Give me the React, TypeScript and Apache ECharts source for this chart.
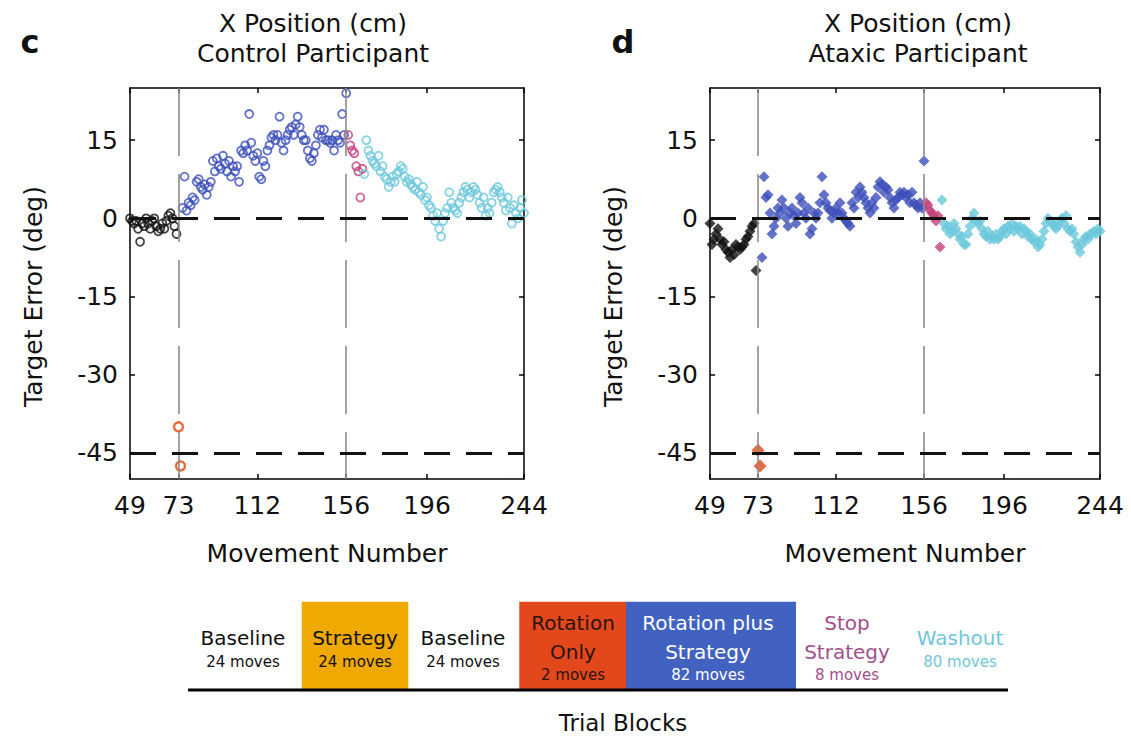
import React, { useEffect, useRef } from "react";
import * as echarts from "echarts";

const FONT = "DejaVu Sans";

// axis ticks
const xTickValues = [49, 73, 112, 156, 196, 244];
const yTickValues = [-45, -30, -15, 0, 15];
const xRange = [49, 244];
const yRange = [-50, 25];
const blockBoundaries = [73, 156];
const referenceLevels = [0, -45];

// first movement number of each block
const baselineStart = 49;
const rotationStart = 73;
const rotPlusStart = 75;
const stopStart = 157;
const washoutStart = 165;

// Control participant (panel c)
const ctrlBaseline = [0, -0.5, -1, -0.5, -2, -4.5, -1, -1.5, 0, -1, -2, -0.5, 0, -1.5, -2.5, -2, -1, -2, -0.5, 0.5, 1, 0, -1.5, -3];
const ctrlRotation = [-40, -47.5];
const ctrlRotPlus = [
  2, 8, 1.5, 3, 2.5, 4, 3.5, 7, 7.5, 6,
  5.5, 6.5, 4.5, 6, 7, 11, 9, 11.5, 10, 9.5,
  12, 10.5, 9, 11, 8, 10, 9, 10, 7, 13,
  12.5, 14, 13, 20, 14.5, 12, 11, 12.5, 8, 7.5,
  11, 10, 13, 14, 15.5, 16, 15, 16, 19.5, 14.5,
  13, 15, 16, 17, 17.5, 16, 18, 19.5, 17.5, 16,
  15, 15, 13, 11.5, 11, 12.5, 14, 16, 17, 15.5,
  17, 15, 15, 14.5, 15, 13, 16, 15, 14.5, 20,
  16, 24,
];
const ctrlStop = [16, 14, 13, 12.5, 10, 9, 4, 9.5];
const ctrlWashout = [
  8.5, 15, 13, 12, 11, 10.5, 10, 12, 9, 10,
  8, 7.5, 6, 7, 8, 7, 8.5, 9, 10, 9.5,
  8, 7, 7.5, 6.5, 6, 5.5, 7, 5, 4.5, 6,
  3.5, 4, 2.5, 2, 0.5, -0.5, 1, -2, -3.5, -0.5,
  1, 2, 5, 3, 2, 1.5, 1, 3, 4, 5,
  6, 5.5, 4, 5, 6, 5.5, 4.5, 3, 2, 4,
  0.5, 2, 1, 3, 5, 5.5, 6, 5, 4, 3,
  1.5, 4, 2, -1, 2.5, 1, 0, 2, 3.5, 1,
];

// Ataxic participant (panel d)
const ataxBaseline = [-1, -5, -4, -3, -2, -4, -5, -4.5, -6, -6.5, -7.5, -6, -7, -5, -5.5, -6, -5.5, -5, -4, -3.5, -2.5, -1.5, -1, -10];
const ataxRotation = [-44.5, -47.5];
const ataxRotPlus = [
  -7.5, 8, 4, 4.5, 1, -3, -1.5, 0, 2, 1,
  3.5, 2, 0, -1.5, 1, 2, 0.5, -1, 1, 4,
  3, 1, 0, 2, -3, -2, 1, 0, 1, 3,
  8, 4.5, 3, 2, 1.5, 0, 1, 2, 1, 3,
  1, 0, -0.5, -1, -1.5, 3, 2, 5, 4, 6,
  5, 4, 3, 2, 1, 3, 2, 4, 6, 7,
  6.5, 5, 6, 5.5, 4, 3, 2, 3.5, 4, 5,
  4.5, 5, 4, 4.5, 3, 5, 3, 2.5, 2, 3,
  2, 11,
];
const ataxStop = [3, 2.5, 1.5, 1, 0.5, -0.5, 0.5, -5.5];
const ataxWashout = [
  3.5, -1, -2, -1.5, -3, -2.5, -1, -2, -3, -4,
  -3.5, -5, -5, -3, -1.5, 0, 1, -0.5, -1, -0.5,
  -2, -3, -3.5, -2.5, -4, -3.5, -4, -3, -4, -3.5,
  -2.5, -2, -3, -1.5, -2, -1, -2.5, -1.5, -2, -1.5,
  -3, -2, -2.5, -3.5, -3, -4, -4.5, -4, -5.5, -5,
  -4, -2.5, -1, 0, -0.5, -1, -1.5, -2, -1.5, -0.5,
  0, -1, 0.5, -2, -2.5, -2, -3, -4.5, -5.5, -6.5,
  -5, -4, -3.5, -4, -3, -3, -2.5, -3, -2, -2.5,
];

// legend blocks
const legendBlocks = [
  { lines: ["Baseline", "24 moves"], fill: null, text: "#111" },
  { lines: ["Strategy", "24 moves"], fill: "#f0a900", text: "#111" },
  { lines: ["Baseline", "24 moves"], fill: null, text: "#111" },
  { lines: ["Rotation", "Only", "2 moves"], fill: "#e2481c", text: "#2a140c" },
  { lines: ["Rotation plus", "Strategy", "82 moves"], fill: "#4262c2", text: "#ffffff" },
  { lines: ["Stop", "Strategy", "8 moves"], fill: null, text: "#a24f8e" },
  { lines: ["Washout", "80 moves"], fill: null, text: "#72c6dc" },
];

const COLORS = {
  baseline: "#111111",
  rotation: "#e8440e",
  rotPlus: "#3c4fba",
  stop: "#c4417c",
  washout: "#6cc8dc",
};

function pts(start: number, vals: number[]) {
  return vals.map((v, i) => [start + i, v]);
}

export default function App() {
  const ref = useRef<HTMLDivElement>(null);

  useEffect(() => {
    if (!ref.current) return;
    const chart = echarts.init(ref.current, null, { renderer: "svg" });

    const grids = [
      { left: 130, top: 88, width: 394, height: 391 },
      { left: 710, top: 88, width: 390, height: 391 },
    ];

    const axisLineStyle = { color: "#000", width: 1.5 };
    const xAxes: any[] = [];
    const yAxes: any[] = [];
    grids.forEach((_, gi) => {
      ["bottom", "top"].forEach((pos) => {
        const main = pos === "bottom";
        xAxes.push({
          type: "value",
          gridIndex: gi,
          position: pos,
          min: xRange[0],
          max: xRange[1],
          axisLine: { show: true, onZero: false, lineStyle: axisLineStyle },
          axisTick: { show: true, inside: true, length: 5, customValues: xTickValues, lineStyle: axisLineStyle },
          axisLabel: main
            ? { show: true, customValues: xTickValues, margin: 14, fontSize: 25, color: "#111", fontFamily: FONT }
            : { show: false },
          splitLine: { show: false },
          name: main ? "Movement Number" : "",
          nameLocation: "middle",
          nameGap: 62,
          nameTextStyle: { fontSize: 25, color: "#111", fontFamily: FONT },
        });
      });
      ["left", "right"].forEach((pos) => {
        const main = pos === "left";
        yAxes.push({
          type: "value",
          gridIndex: gi,
          position: pos,
          min: yRange[0],
          max: yRange[1],
          axisLine: { show: true, onZero: false, lineStyle: axisLineStyle },
          axisTick: { show: true, inside: true, length: 5, customValues: yTickValues, lineStyle: axisLineStyle },
          axisLabel: main
            ? { show: true, customValues: yTickValues, margin: 12, fontSize: 25, color: "#111", fontFamily: FONT }
            : { show: false },
          splitLine: { show: false },
          name: main ? "Target Error (deg)" : "",
          nameLocation: "middle",
          nameGap: 84,
          nameTextStyle: { fontSize: 25, color: "#111", fontFamily: FONT, padding: [0, 26, 0, 0] },
        });
      });
    });

    const participants = [
      { base: ctrlBaseline, rot: ctrlRotation, rp: ctrlRotPlus, stop: ctrlStop, wash: ctrlWashout, hollow: true },
      { base: ataxBaseline, rot: ataxRotation, rp: ataxRotPlus, stop: ataxStop, wash: ataxWashout, hollow: false },
    ];

    const series: any[] = [];
    participants.forEach((p, gi) => {
      const axIdx = gi * 2;
      const vLines = blockBoundaries.map((b) => [
        { coord: [b, yRange[1]], lineStyle: { color: "#8c8c8c", width: 1.6, type: [68, 18] } },
        { coord: [b, yRange[0]] },
      ]);
      const hLines = referenceLevels.map((lv) => [
        { coord: [xRange[0], lv], lineStyle: { color: "#111", width: 3, type: [26, 16] } },
        { coord: [xRange[1], lv] },
      ]);
      series.push({
        type: "scatter",
        xAxisIndex: axIdx,
        yAxisIndex: axIdx,
        data: [],
        z: 1,
        markLine: {
          silent: true,
          symbol: ["none", "none"],
          label: { show: false },
          animation: false,
          data: [...vLines, ...hLines],
        },
      });
      const groups: [number, number[], string, number][] = [
        [baselineStart, p.base, COLORS.baseline, 0],
        [rotationStart, p.rot, COLORS.rotation, 1],
        [rotPlusStart, p.rp, COLORS.rotPlus, 0],
        [stopStart, p.stop, COLORS.stop, 0],
        [washoutStart, p.wash, COLORS.washout, 0],
      ];
      groups.forEach(([start, vals, color, emph]) => {
        series.push({
          type: "scatter",
          xAxisIndex: axIdx,
          yAxisIndex: axIdx,
          z: 3,
          data: pts(start, vals),
          symbol: p.hollow ? "circle" : "diamond",
          symbolSize: p.hollow ? (emph ? 9 : 8) : emph ? 13 : 11,
          itemStyle: p.hollow
            ? { color: "rgba(255,255,255,0)", borderColor: color, borderWidth: emph ? 2.4 : 1.8 }
            : { color },
        });
      });
    });

    const graphic: any[] = [];
    const txt = (text: string, x: number, y: number, size: number, fill: string, weight = "normal") => ({
      type: "text",
      x,
      y,
      style: {
        text,
        x: 0,
        y: 0,
        textAlign: "center",
        textVerticalAlign: "middle",
        fontSize: size,
        fontWeight: weight,
        fontFamily: FONT,
        fill,
      },
    });
    graphic.push(txt("c", 30, 42, 32, "#111", "bold"));
    graphic.push(txt("d", 623, 42, 32, "#111", "bold"));
    graphic.push(txt("X Position (cm)", 313, 23, 25, "#111"));
    graphic.push(txt("Control Participant", 313, 53, 25, "#111"));
    graphic.push(txt("X Position (cm)", 918, 23, 25, "#111"));
    graphic.push(txt("Ataxic Participant", 918, 53, 25, "#111"));

    const blockEdges = [188, 301.7, 408.3, 519.3, 626, 796, 900, 1008];
    const blockCenters = [243, 355, 463, 573, 708, 847, 960];
    legendBlocks.forEach((b, i) => {
      if (b.fill) {
        graphic.push({
          type: "rect",
          shape: { x: blockEdges[i], y: 601.7, width: blockEdges[i + 1] - blockEdges[i], height: 88.3 },
          style: { fill: b.fill },
        });
      }
      const ys = b.lines.length === 3 ? [623, 652, 675] : [638, 662];
      b.lines.forEach((ln, j) => {
        const small = j === b.lines.length - 1;
        graphic.push(txt(ln, blockCenters[i], ys[j], small ? 15 : 20, b.text));
      });
    });
    graphic.push({
      type: "line",
      shape: { x1: 188, y1: 690, x2: 1008, y2: 690 },
      style: { stroke: "#000", lineWidth: 3 },
    });
    graphic.push(txt("Trial Blocks", 623, 723, 23, "#111"));

    chart.setOption({
      animation: false,
      backgroundColor: "#ffffff",
      textStyle: { fontFamily: FONT },
      grid: grids,
      xAxis: xAxes,
      yAxis: yAxes,
      series,
      graphic,
    });

    return () => chart.dispose();
  }, []);

  return (
    <div
      ref={ref}
      style={{ position: "fixed", left: 0, top: 0, width: 1131, height: 737, background: "#fff" }}
    />
  );
}
